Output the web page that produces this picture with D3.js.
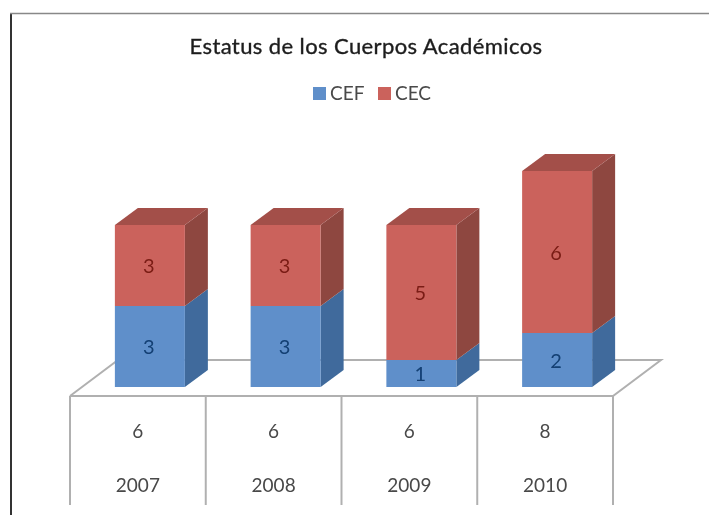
<!DOCTYPE html>
<html>
<head>
<meta charset="utf-8">
<script src="https://cdn.jsdelivr.net/npm/d3@7"></script>
<style>
html, body { margin: 0; padding: 0; background: #fff; }
svg { display: block; }
text { font-family: Lato, "Open Sans", sans-serif; }
</style>
</head>
<body>
<svg class="chart" width="709" height="515"></svg>
<script>
const years = ['2007', '2008', '2009', '2010'];
const cef = [3, 3, 1, 2];
const cec = [3, 3, 5, 6];
const totals = [6, 6, 6, 8];
const seriesNames = ['CEF', 'CEC'];

const svg = d3.select('.chart');

const rows = years.map((y, i) => ({ year: y, CEF: cef[i], CEC: cec[i], total: totals[i] }));
const stacked = d3.stack().keys(seriesNames)(rows);

const tableLeft = 70, tableRight = 613, tableTop = 396, tableBottom = 505;
const depthX = 23, depthY = 17;
const floorX = 48, floorY = 36;

const x = d3.scaleBand().domain(years).range([tableLeft, tableRight]).paddingInner(0).paddingOuter(0);
const y = d3.scaleLinear().domain([0, 8]).range([387, 171]);
const barWidth = 70;
const barX = d => x(d) + (x.bandwidth() - barWidth) / 2 + 12;

const colors = {
    CEF: { front: '#5e8fca', side: '#3f6b9c', label: '#123f73' },
    CEC: { front: '#cb625c', side: '#8e4741', top: '#a34f49', label: '#7a1c14' }
};

// frame of the pasted picture
svg.append('line').attr('x1', 11).attr('x2', 11).attr('y1', 13).attr('y2', 515).attr('stroke', '#333').attr('stroke-width', 2);
svg.append('line').attr('x1', 10).attr('x2', 709).attr('y1', 13.5).attr('y2', 13.5).attr('stroke', '#888').attr('stroke-width', 1.5);

const plot = svg.append('g').attr('filter', 'url(#soft)');
svg.append('defs').append('filter').attr('id', 'soft')
    .append('feGaussianBlur').attr('stdDeviation', 0.5);

// floor and data table
const gridColor = '#b0b0b0';
const grid = plot.append('g').attr('fill', 'none').attr('stroke', gridColor).attr('stroke-width', 2);
grid.append('path').attr('d', d3.line()([
    [tableLeft, tableTop],
    [tableLeft + floorX, tableTop - floorY],
    [tableRight + floorX, tableTop - floorY],
    [tableRight, tableTop],
    [tableLeft, tableTop]
]));
grid.selectAll('.cell-line')
    .data(years.map(d => x(d)).concat(tableRight))
    .enter().append('line')
    .attr('class', 'cell-line')
    .attr('x1', d => d).attr('x2', d => d)
    .attr('y1', tableTop).attr('y2', tableBottom);

// bars
stacked.forEach(layer => {
    const c = colors[layer.key];
    const g = plot.append('g');
    layer.forEach(d => {
        const yr = d.data.year;
        const x0 = barX(yr), x1 = x0 + barWidth;
        const y0 = y(d[0]), y1 = y(d[1]);
        g.append('path').attr('fill', c.side).attr('d', d3.line()([
            [x1, y0], [x1 + depthX, y0 - depthY], [x1 + depthX, y1 - depthY], [x1, y1]
        ]));
        g.append('rect').attr('fill', c.front)
            .attr('x', x0).attr('y', y1).attr('width', barWidth).attr('height', y0 - y1);
        if (layer.key === 'CEC') {
            g.append('path').attr('fill', c.top).attr('d', d3.line()([
                [x0, y1], [x0 + depthX, y1 - depthY], [x1 + depthX, y1 - depthY], [x1, y1]
            ]));
        }
        g.append('text')
            .attr('x', x0 + barWidth / 2 - 1).attr('y', (y0 + y1) / 2 + 2.5)
            .attr('text-anchor', 'middle').attr('dominant-baseline', 'middle')
            .attr('font-size', 20).attr('fill', c.label)
            .text(d[1] - d[0]);
    });
});

// table text
const tableText = plot.append('g').attr('text-anchor', 'middle').attr('font-size', 19).attr('fill', '#484848');
tableText.selectAll('.total').data(rows).enter().append('text')
    .attr('class', 'total')
    .attr('x', d => x(d.year) + x.bandwidth() / 2).attr('y', 438)
    .text(d => d.total);
tableText.selectAll('.year').data(rows).enter().append('text')
    .attr('class', 'year')
    .attr('x', d => x(d.year) + x.bandwidth() / 2).attr('y', 492)
    .text(d => d.year);

// title
plot.append('text')
    .attr('x', 366).attr('y', 54)
    .attr('text-anchor', 'middle').attr('font-size', 22)
    .attr('letter-spacing', 0.4)
    .attr('fill', '#1c1c1c').attr('stroke', '#1c1c1c').attr('stroke-width', 0.35)
    .text('Estatus de los Cuerpos Académicos');

// legend
const legendX = d3.scaleOrdinal().domain(seriesNames).range([313, 378]);
const legend = plot.selectAll('.legend').data(seriesNames).enter().append('g')
    .attr('class', 'legend')
    .attr('transform', d => `translate(${legendX(d)},0)`);
legend.append('rect')
    .attr('y', 87).attr('width', 13).attr('height', 13)
    .attr('fill', d => colors[d].front);
legend.append('text')
    .attr('x', 17).attr('y', 100)
    .attr('font-size', 19).attr('fill', '#484848')
    .text(d => d);
</script>
</body>
</html>
